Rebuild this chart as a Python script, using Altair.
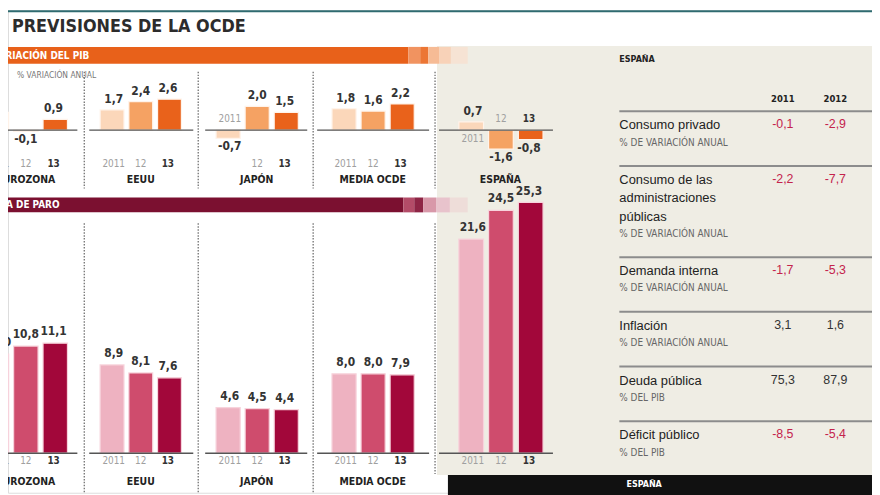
import altair as alt
import pandas as pd

# ------------------------------------------------------------------ data
YEARS = ["2011", "12", "13"]
COUNTRIES = ["EUROZONA", "EEUU", "JAPÓN", "MEDIA OCDE", "ESPAÑA"]
GDP = {
    "EUROZONA": [1.5, -0.1, 0.9],
    "EEUU": [1.7, 2.4, 2.6],
    "JAPÓN": [-0.7, 2.0, 1.5],
    "MEDIA OCDE": [1.8, 1.6, 2.2],
    "ESPAÑA": [0.7, -1.6, -0.8],
}
PARO = {
    "EUROZONA": [10.0, 10.8, 11.1],
    "EEUU": [8.9, 8.1, 7.6],
    "JAPÓN": [4.6, 4.5, 4.4],
    "MEDIA OCDE": [8.0, 8.0, 7.9],
    "ESPAÑA": [21.6, 24.5, 25.3],
}
TABLE_LABELS = ["Consumo privado", "Consumo de las\nadministraciones\npúblicas",
                "Demanda interna", "Inflación", "Deuda pública", "Déficit público"]
TABLE_UNITS = ["% DE VARIACIÓN ANUAL", "% DE VARIACIÓN ANUAL", "% DE VARIACIÓN ANUAL",
               "% DE VARIACIÓN ANUAL", "% DEL PIB", "% DEL PIB"]
TABLE_COLS = ["2011", "2012"]
TABLE_2011 = [-0.1, -2.2, -1.7, 3.1, 75.3, -8.5]
TABLE_2012 = [-2.9, -7.7, -5.3, 1.6, 87.9, -5.4]

# ------------------------------------------------------------------ style / layout
GDP_COLORS = ["#fbd7ba", "#f5a263", "#e9621b"]
PARO_COLORS = ["#eeb2c1", "#cf4c6d", "#a2073a"]
ORANGE = "#e8611a"
MAROON = "#7b1030"
BEIGE = "#efede4"
NARROW = "Liberation Sans Narrow, DejaVu Sans Condensed, Liberation Sans, Arial, sans-serif"
SANS = "Liberation Sans, Arial, sans-serif"

OFF = 8
W, H = 872, 487


def P(v):
    return v - OFF


BAR_SPANS = [(-16, 68), (101, 183), (218, 301), (335, 418), (463, 548)]
BASE_SPANS = [(-22, 78), (90, 195), (207, 310), (320, 433), (443, 558)]
CENTERS = [26, 142, 259, 376, 505]
GDP_BASE, GDP_PX = 129, 12
PARO_BASE, PARO_PX = 455, 10

ONE = pd.DataFrame({"k": [0]})
LABEL_EXPR = "replace(replace(format(datum.v, '.1f'), '.', ','), '\u2212', '-')"

layers = []


def rect(x0, x1, y0, y1, color):
    return alt.Chart(ONE).mark_rect(color=color).encode(
        x=alt.value(P(x0)), x2=alt.value(P(x1)), y=alt.value(P(y0)), y2=alt.value(P(y1)))


def text(txt, x, y, **kw):
    return alt.Chart(ONE).mark_text(text=txt, **kw).encode(x=alt.value(P(x)), y=alt.value(P(y)))


def vrule(x, y0, y1):
    return alt.Chart(ONE).mark_rule(color="#7a7a7a", strokeWidth=1.4, strokeDash=[1.5, 1.5]).encode(
        x=alt.value(P(x)), y=alt.value(P(y0)), y2=alt.value(P(y1)))


# backgrounds & bands
layers.append(rect(-20, 900, 8, 10, "#2f6b70"))
layers.append(rect(441, 900, 44, 477, BEIGE))
layers.append(rect(-20, 412, 45, 62, ORANGE))
for a, b, c in [(412, 424, "#f19360"), (424, 432, "#ec7634"), (432, 443, "#f6bb95"),
                (443, 455, "#f8d2b8"), (455, 472, "#f6e3d4")]:
    layers.append(rect(a, b, 45, 62, c))
layers.append(rect(-20, 407, 197, 212, MAROON))
for a, b, c in [(407, 418, "#b34c68"), (418, 427, "#8e2545"), (427, 440, "#d898a9"),
                (440, 454, "#e8c3cc"), (454, 472, "#eeddd9")]:
    layers.append(rect(a, b, 197, 212, c))
layers.append(rect(452, 900, 477, 500, "#111111"))

# titles
layers.append(text("LAS PREVISIONES DE LA OCDE", 248, 25, align="right", baseline="middle",
                   font=NARROW, fontSize=18, fontWeight="bold", color="#2c2c2c"))
layers.append(text("VARIACIÓN DEL PIB", 90, 54, align="right", baseline="middle",
                   font=NARROW, fontSize=10, fontWeight="bold", color="white"))
layers.append(text("% VARIACIÓN ANUAL", 97, 73, align="right", baseline="middle",
                   font=NARROW, fontSize=8.5, color="#777777"))
layers.append(text("TASA DE PARO", 60, 205, align="right", baseline="middle",
                   font=NARROW, fontSize=10, fontWeight="bold", color="white"))
layers.append(text("ESPAÑA", 650, 486, align="center", baseline="middle",
                   font=NARROW, fontSize=9, fontWeight="bold", color="white"))
layers.append(text("ESPAÑA", 625, 57, align="left", baseline="middle",
                   font=NARROW, fontSize=9, fontWeight="bold", color="#222222"))

# separators
for x in [85, 200, 316, 439]:
    layers.append(vrule(x, 70, 188))
    layers.append(vrule(x, 223, 495 if x != 439 else 476))


def panel(country, values, i, base, px, top_val, colors, year_y, name_y, near, dy, stroke):
    df = pd.DataFrame({"year": YEARS, "v": values})
    xs = alt.Scale(domain=YEARS, range=[P(BAR_SPANS[i][0]), P(BAR_SPANS[i][1])],
                   paddingInner=0.17, paddingOuter=0)
    ys = alt.Scale(domain=[0, top_val], range=[P(base), P(base) - px * top_val],
                   zero=False, nice=False)
    X = alt.X("year:N", scale=xs, axis=None)
    out = []
    out.append(alt.Chart(df).mark_bar(stroke=stroke, strokeWidth=1.2).encode(
        x=X, y=alt.Y("v:Q", scale=ys, axis=None), y2=alt.datum(0),
        color=alt.Color("year:N", scale=alt.Scale(domain=YEARS, range=colors), legend=None)))
    b0, b1 = BASE_SPANS[i]
    out.append(alt.Chart(ONE).mark_rule(color="#555555", strokeWidth=1.5).encode(
        x=alt.value(P(b0)), x2=alt.value(P(b1)), y=alt.value(P(base))))
    # value labels
    out.append(alt.Chart(df).transform_filter("datum.v >= 0").transform_calculate(
        lab=LABEL_EXPR).mark_text(baseline="bottom", dy=dy, font=NARROW, fontSize=12,
                                  fontWeight="bold", color="#333333").encode(
        x=X, y=alt.Y("v:Q", scale=ys, axis=None), text="lab:N"))
    out.append(alt.Chart(df).transform_filter("datum.v < 0").transform_calculate(
        lab=LABEL_EXPR).mark_text(baseline="top", dy=3, font=NARROW, fontSize=12,
                                  fontWeight="bold", color="#333333").encode(
        x=X, y=alt.Y("v:Q", scale=ys, axis=None), text="lab:N"))
    # year labels
    near_expr = "indexof(%s, datum.year) >= 0" % str(near).replace("'", '"')
    for bold in (False, True):
        cond = "datum.year == '13'" if bold else "datum.year != '13'"
        style = dict(font=NARROW, fontSize=10, fontWeight="bold" if bold else "normal",
                     color="#333333" if bold else "#a0a0a0", baseline="middle")
        out.append(alt.Chart(df).transform_filter(cond).transform_filter(
            "!(" + near_expr + ")").mark_text(**style).encode(x=X, y=alt.value(P(year_y)),
                                                              text="year:N"))
        if near:
            out.append(alt.Chart(df).transform_filter(cond).transform_filter(
                near_expr).transform_calculate(
                ly="datum.v >= 0 ? -0.75 : 0.9").mark_text(**style).encode(
                x=X, y=alt.Y("ly:Q", scale=ys, axis=None), text="year:N"))
    if name_y is not None:
        out.append(text(country, CENTERS[i], name_y, align="center", baseline="middle",
                        font=NARROW, fontSize=10.5, fontWeight="bold", color="#222222"))
    return out


for i, c in enumerate(COUNTRIES):
    near = {"JAPÓN": ["2011"], "ESPAÑA": YEARS}.get(c, [])
    layers += panel(c, GDP[c], i, GDP_BASE, GDP_PX, 10, GDP_COLORS, 163, 179, near, -4,
                    "#fff3ea")
    layers += panel(c, PARO[c], i, PARO_BASE, PARO_PX, 30, PARO_COLORS, 463,
                    None if c == "ESPAÑA" else 484, [], -5, "#f7d3dc")

# ------------------------------------------------------------------ table
tdf = pd.DataFrame({"label": TABLE_LABELS, "unit": TABLE_UNITS,
                    "2011": TABLE_2011, "2012": TABLE_2012})
U = 18.4
tys = alt.Scale(domain=[0, 20], range=[P(110), P(110) + 20 * U], zero=False, nice=False)
txs = alt.Scale(type="point", domain=TABLE_COLS, range=[P(790), P(843)], padding=0)


def tbase():
    return (alt.Chart(tdf)
            .transform_window(idx="row_number()")
            .transform_calculate(nl="length(split(datum.label, '\\n'))")
            .transform_calculate(h="datum.nl + 2")
            .transform_window(cum="sum(h)", sort=[alt.SortField("idx")], frame=[None, 0])
            .transform_calculate(top="datum.cum - datum.h"))


layers.append(tbase().mark_rule(color="#8c8c8c", strokeWidth=2).encode(
    y=alt.Y("top:Q", scale=tys, axis=None), x=alt.value(P(625)), x2=alt.value(W)))
layers.append(tbase().transform_calculate(ly="datum.top + 0.45").mark_text(
    align="left", baseline="top", lineBreak="\n", lineHeight=U, font=SANS, fontSize=13,
    color="#222222").encode(x=alt.value(P(625)), y=alt.Y("ly:Q", scale=tys, axis=None),
                            text="label:N"))
layers.append(tbase().transform_calculate(sy="datum.top + datum.nl + 0.72").mark_text(
    align="left", baseline="middle", font=NARROW, fontSize=10, color="#666666").encode(
    x=alt.value(P(625)), y=alt.Y("sy:Q", scale=tys, axis=None), text="unit:N"))
layers.append(tbase().transform_fold(TABLE_COLS, as_=["col", "v"]).transform_calculate(
    vy="datum.top + 0.72", lab=LABEL_EXPR).mark_text(
    align="center", baseline="middle", font=SANS, fontSize=12.5).encode(
    x=alt.X("col:N", scale=txs, axis=None), y=alt.Y("vy:Q", scale=tys, axis=None),
    text="lab:N",
    color=alt.condition("datum.v < 0", alt.value("#c4234c"), alt.value("#333333"))))
layers.append(alt.Chart(pd.DataFrame({"col": TABLE_COLS})).mark_text(
    align="center", baseline="middle", font=NARROW, fontSize=9.5, fontWeight="bold",
    color="#222222").encode(x=alt.X("col:N", scale=txs, axis=None), y=alt.value(P(98)),
                            text="col:N"))

chart = (alt.layer(*layers)
         .resolve_scale(x="independent", y="independent", color="independent")
         .properties(width=W, height=H, padding=0,
                     autosize=alt.AutoSizeParams(type="none"))
         .configure_view(stroke=None)
         .configure(background="white"))

chart.save("out.html", embed_options={"renderer": "svg", "actions": False})
